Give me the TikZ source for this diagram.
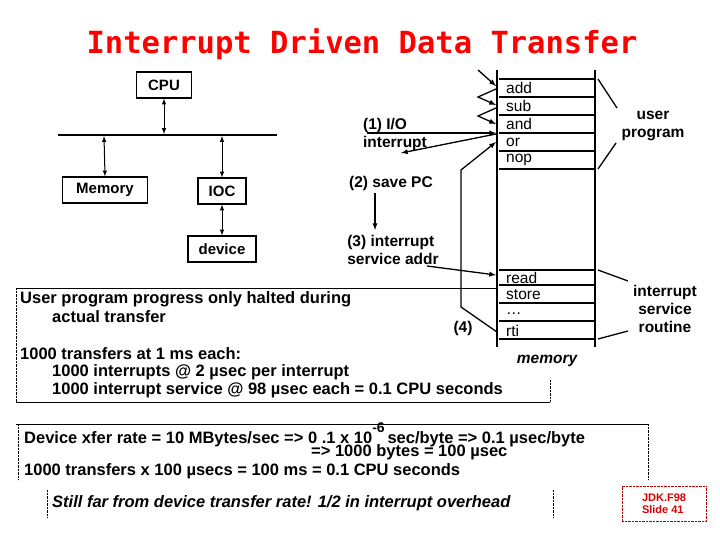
\documentclass[tikz,border=0pt]{standalone}
\usepackage{fontspec}
\setmainfont{Liberation Sans}
\newfontfamily\ttl{DejaVu Sans Mono}
\begin{document}
\begin{tikzpicture}[x=1pt,y=-1pt,
  txt/.style={anchor=west,inner sep=0pt,font=\bfseries\fontsize{16.5}{18}\selectfont},
  box/.style={draw,line width=1.2pt,inner sep=3pt,font=\bfseries\fontsize{15}{17}\selectfont},
  lbl/.style={inner sep=0pt,font=\bfseries\fontsize{15.5}{18}\selectfont,align=left},
  ml/.style={inner sep=0pt,font=\fontsize{15.5}{17}\selectfont,anchor=west},
  ln/.style={line width=1.3pt},
  arr/.style={ln,-latex},
  dar/.style={line width=1pt,latex-latex}]
\useasboundingbox (0,0) rectangle (720,540);
\node[font=\ttl\bfseries\fontsize{30.5}{33}\selectfont,text=red] (title) at (362,44) {Interrupt Driven Data Transfer};
% left block
\node[box,minimum width=55,minimum height=26] (cpu) at (164,85) {CPU};
\node[box,minimum width=85,minimum height=26] (mem) at (105,190) {Memory};
\node[box,minimum width=48,minimum height=26] (ioc) at (222,191) {IOC};
\node[box,minimum width=68,minimum height=26] (dev) at (222,249) {device};
\coordinate (b1) at (58,135); \coordinate (b2) at (277,135);
\draw[ln] (b1) -- (b2);
\draw[dar] (cpu.south) -- (164,134);
\draw[dar] (104,136) -- (mem.north);
\draw[dar] (222,136) -- (ioc.north);
\draw[dar] (ioc.south) -- (dev.north);
% memory column
\coordinate (mtl) at (497,70); \coordinate (mbl) at (497,347);
\coordinate (mtr) at (595,70); \coordinate (mbr) at (595,347);
\draw[ln] (mtl) -- (mbl); \draw[ln] (mtr) -- (mbr);
\foreach \y in {79,97,115,133,151,169,270,285,303,321,339} \draw[ln] (499,\y) -- (595,\y);
\foreach \t/\y in {add/88,sub/106,and/124,or/142,nop/160,read/278,store/295,{\ldots}/314,rti/331}
  \node[ml] (m\y) at (506,\y) {\t};
\node[lbl,font=\bfseries\itshape\fontsize{15.5}{17}\selectfont] (memlbl) at (547,361) {memory};
\node[lbl,align=center] (up) at (653,126) {user\\program};
\node[lbl,align=center] (isr) at (665,309) {interrupt\\service\\routine};
\draw[ln] (598,79) -- (617,108); \draw[ln] (598,169) -- (616,143);
\draw[ln] (598,270) -- (628,281); \draw[ln] (598,339) -- (628,331);
% incoming arrows
\coordinate (z0) at (478,70); \coordinate (z1) at (478,97); \coordinate (z2) at (478,116);
\draw[arr] (z0) -- (496,86);
\draw[arr] (496,89) -- (z1) -- (496,105);
\draw[arr] (496,108) -- (z2) -- (496,124);
\node[lbl] (io) at (395,134) {(1) I/O\\interrupt};
\coordinate (ioS) at (367,133);
\draw[arr] (ioS) -- (496,133);
\node[lbl] (pc) at (391,183) {(2) save PC};
\draw[arr] (496,134) -- (401,153);
\draw[arr] (375,193) -- (375,230);
\node[lbl] (isa) at (393,250) {(3) interrupt\\service addr};
\draw[arr] (427,266) -- (496,275);
\node[lbl] (four) at (463,328) {(4)};
\draw[arr] (497,332) -- (461,307) -- (461,170) -- (496,142);
% bottom text box 1
\draw[line width=0.8pt] (16,288) -- (498,288);
\draw[line width=0.8pt] (16,402) -- (550,402);
\draw[densely dotted] (16,288) -- (16,402); \draw[densely dotted] (550,380) -- (550,402);
\node[txt] (t1) at (20,299) {User program progress only halted during};
\node[txt] (t2) at (52,317) {actual transfer};
\node[txt] (t3) at (20,354) {1000 transfers at 1 ms each:};
\node[txt] (t4) at (52,372) {1000 interrupts @ 2 µsec per interrupt};
\node[txt] (t5) at (52,390) {1000 interrupt service @ 98 µsec each = 0.1 CPU seconds};
% bottom text box 2
\draw[line width=0.8pt] (16,424) -- (648,424);
\draw[densely dotted] (18,424) -- (18,480); \draw[densely dotted] (648,424) -- (648,480);
\node[txt] (d1) at (24,435) {Device xfer rate = 10 MBytes/sec => 0 .1 x 10\raisebox{11pt}{\fontsize{14}{14}\selectfont -6}\,sec/byte => 0.1 µsec/byte};
\node[txt] (d2) at (311,452) {=> 1000 bytes = 100 µsec};
\node[txt] (d3) at (24,471) {1000 transfers x 100 µsecs = 100 ms = 0.1 CPU seconds};
\node[txt,font=\bfseries\itshape\fontsize{16.5}{18}\selectfont] (still) at (52,503) {Still far from device transfer rate! 1/2 in interrupt overhead};
\draw[densely dotted] (47,490) -- (47,518); \draw[densely dotted] (553,490) -- (553,518);
\node[draw=red!70!black,densely dotted,minimum width=84,minimum height=35,text=red!85!black,font=\bfseries\fontsize{11}{12}\selectfont,align=left] (jdk) at (664,504) {JDK.F98\\Slide 41};
\end{tikzpicture}
\end{document}
